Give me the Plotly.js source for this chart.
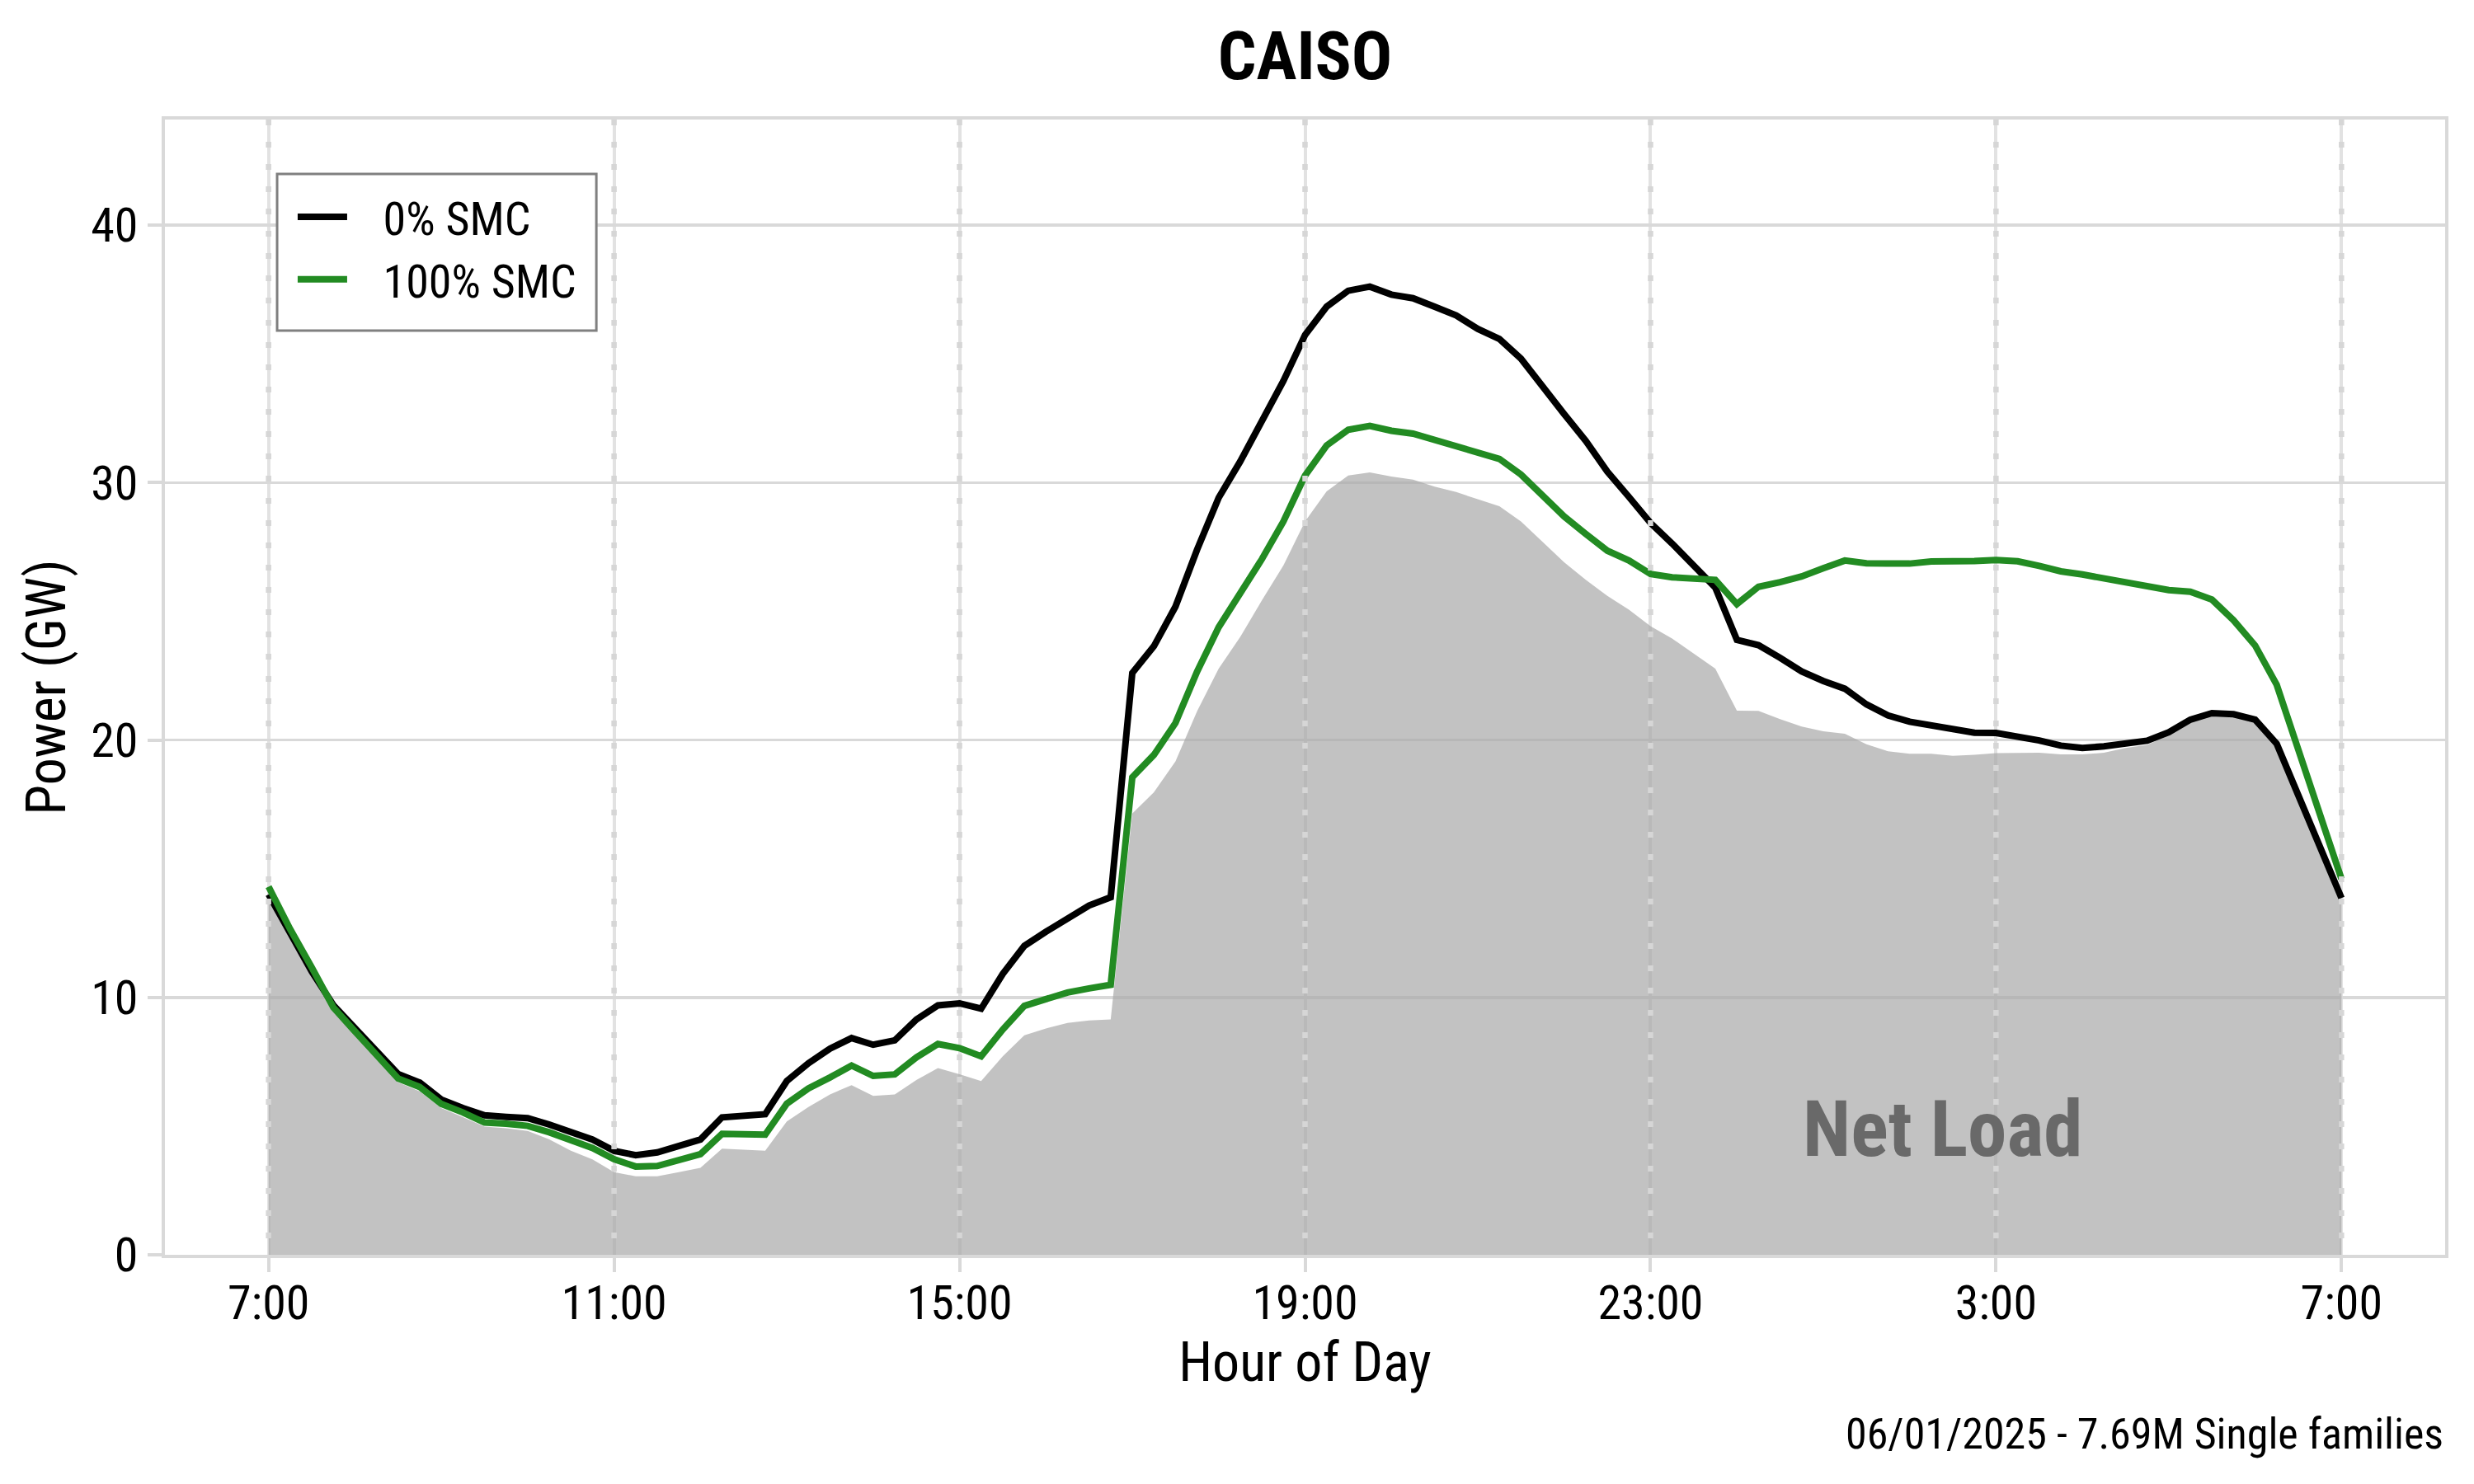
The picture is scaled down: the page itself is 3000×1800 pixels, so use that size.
<!DOCTYPE html>
<html>
<head>
<meta charset="utf-8">
<script src="https://cdn.plot.ly/plotly-3.0.1.min.js"></script>
<style>
  html, body { margin: 0; padding: 0; background: #ffffff; }
  #chart { width: 3000px; height: 1800px; }
</style>
</head>
<body>
<div id="chart"></div>
<script>
// ---- Data (15-minute steps from 7:00 to 7:00 next day) ----
const startTime = "2025-06-01 07:00";
const stepMinutes = 15;

const smc0 = [
  14.0, 12.45, 11.0, 9.7, 8.8, 7.9, 7.02, 6.69, 6.03, 5.70, 5.42, 5.36, 5.31, 5.06, 4.76, 4.48,
  4.04, 3.87, 3.98, 4.2, 4.48, 5.34, 5.39, 5.46, 6.75, 7.44, 8.01, 8.42, 8.16, 8.33, 9.14, 9.69,
  9.77, 9.56, 10.91, 12.0, 12.55, 13.07, 13.57, 13.89, 22.6, 23.64, 25.18, 27.39, 29.41, 30.82, 32.42, 33.95,
  35.73, 36.83, 37.45, 37.61, 37.30, 37.16, 36.83, 36.49, 35.97, 35.58, 34.81, 33.71, 32.66, 31.62, 30.42, 29.44,
  28.43, 27.63, 26.77, 25.92, 23.89, 23.68, 23.19, 22.66, 22.29, 21.99, 21.38, 20.95, 20.71, 20.56, 20.38, 20.28,
  20.27, 20.13, 19.98, 19.78, 19.69, 19.75, 19.89, 19.97, 20.3, 20.79, 21.04, 21.0, 20.79, 19.85, 17.85, 15.82,
  13.86
];

const smc100 = [
  14.3, 12.65, 11.16, 9.61, 8.68, 7.79, 6.85, 6.52, 5.86, 5.53, 5.14, 5.09, 5.01, 4.76, 4.43, 4.15,
  3.71, 3.43, 3.45, 3.65, 3.91, 4.70, 4.70, 4.67, 5.87, 6.46, 6.89, 7.35, 6.95, 7.01, 7.67, 8.19,
  8.03, 7.71, 8.75, 9.67, 9.93, 10.19, 10.35, 10.49, 18.55, 19.42, 20.66, 22.65, 24.38, 25.66, 27.02, 28.49,
  30.27, 31.44, 32.05, 32.2, 32.01, 31.9, 31.66, 31.46, 31.17, 30.92, 30.31, 29.47, 28.68, 28.0, 27.35, 26.97,
  26.45, 26.32, 26.28, 26.22, 25.28, 25.95, 26.13, 26.35, 26.67, 26.97, 26.86, 26.83, 26.85, 26.93, 26.92, 26.95,
  26.99, 26.94, 26.76, 26.55, 26.43, 26.27, 26.1, 25.92, 25.82, 25.76, 25.45, 24.65, 23.67, 22.14, 19.62, 17.11,
  14.6
];

const netLoad = [
  14.0, 12.5, 11.05, 9.5, 8.55, 7.65, 6.7, 6.35, 5.7, 5.35, 4.98, 4.92, 4.81, 4.48, 4.04, 3.71,
  3.21, 3.05, 3.05, 3.21, 3.38, 4.12, 4.08, 4.04, 5.18, 5.74, 6.23, 6.59, 6.17, 6.23, 6.79, 7.25,
  7.01, 6.75, 7.71, 8.53, 8.79, 9.01, 9.10, 9.14, 17.14, 17.97, 19.17, 21.11, 22.77, 24.0, 25.42, 26.78,
  28.49, 29.66, 30.27, 30.39, 30.23, 30.11, 29.84, 29.63, 29.35, 29.08, 28.49, 27.7, 26.9, 26.22, 25.6, 25.06,
  24.42, 23.94, 23.35, 22.77, 21.14, 21.13, 20.81, 20.52, 20.34, 20.24, 19.83, 19.56, 19.46, 19.46, 19.38, 19.42,
  19.49, 19.5, 19.5, 19.44, 19.44, 19.5, 19.69, 19.81, 20.18, 20.75, 21.0, 20.95, 20.73, 19.81, 17.79, 15.76,
  13.74
];

const tickTimes = ["2025-06-01 07:00", "2025-06-01 11:00", "2025-06-01 15:00", "2025-06-01 19:00",
                   "2025-06-01 23:00", "2025-06-02 03:00", "2025-06-02 07:00"];
const tickLabels = ["7:00", "11:00", "15:00", "19:00", "23:00", "3:00", "7:00"];
const yTicks = [0, 10, 20, 30, 40];

const seriesNames = ["0% SMC", "100% SMC"];
const titleText = "CAISO";
const footerText = "06/01/2025 - 7.69M Single families";
const netLoadLabel = "Net Load";
const netLoadLabelPos = { x: "2025-06-02 02:23", y: 4.9 };

// ---- time axis built from start + step ----
function pad(n) { return (n < 10 ? "0" : "") + n; }
function timeAt(i) {
  const base = new Date(startTime.replace(" ", "T") + ":00Z").getTime();
  const d = new Date(base + i * stepMinutes * 60000);
  return d.getUTCFullYear() + "-" + pad(d.getUTCMonth() + 1) + "-" + pad(d.getUTCDate()) +
         " " + pad(d.getUTCHours()) + ":" + pad(d.getUTCMinutes());
}
const times = smc0.map((_, i) => timeAt(i));

const FONT = "'Roboto Condensed', 'Liberation Sans Narrow', 'DejaVu Sans Condensed', 'Noto Sans', sans-serif";
const NB = "\u00A0\u00A0\u00A0";

const traces = [
  {
    x: times, y: netLoad, type: "scatter", mode: "lines",
    fill: "tozeroy", fillcolor: "rgba(168,168,168,0.7)",
    line: { width: 0, color: "rgba(168,168,168,0)" },
    name: netLoadLabel, showlegend: false, hoverinfo: "skip"
  },
  {
    x: times, y: smc0, type: "scatter", mode: "lines",
    line: { color: "#000000", width: 8 }, name: NB + seriesNames[0]
  },
  {
    x: times, y: smc100, type: "scatter", mode: "lines",
    line: { color: "#228B22", width: 8 }, name: NB + seriesNames[1]
  }
];

const shapes = tickTimes.map(t => ({
  type: "line", xref: "x", yref: "paper", x0: t, x1: t, y0: 1, y1: 0,
  layer: "above",
  line: { color: "#d6d6d6", width: 6.5, dash: "7px,20px" }
}));
// legend frame
shapes.push({
  type: "rect", xref: "paper", yref: "paper",
  x0: 0.0492, x1: 0.1892, y0: 0.8141, y1: 0.9521,
  layer: "above", fillcolor: "#ffffff",
  line: { color: "#808080", width: 3 }
});

const layout = {
  width: 3000, height: 1800,
  margin: { l: 200, r: 35, t: 145, b: 278, pad: 0 },
  paper_bgcolor: "#ffffff", plot_bgcolor: "#ffffff",
  font: { family: FONT, color: "#000000", size: 58 },
  title: {
    text: titleText,
    font: { family: FONT, size: 82, weight: "bold", color: "#000000" },
    x: 0.5, xref: "paper", xanchor: "center",
    y: 1 - 67 / 1800, yref: "container", yanchor: "middle"
  },
  showlegend: true,
  legend: {
    x: 0.0564, y: 0.9455, xanchor: "left", yanchor: "top",
    bgcolor: "rgba(0,0,0,0)", borderwidth: 0,
    font: { family: FONT, size: 56, color: "#000000" },
    itemwidth: 60, traceorder: "normal"
  },
  xaxis: {
    type: "date",
    range: ["2025-06-01 05:48", "2025-06-02 08:12"],
    tickmode: "array", tickvals: tickTimes, ticktext: tickLabels,
    showgrid: true, gridcolor: "#e2e2e2", gridwidth: 4,
    zeroline: false,
    ticks: "outside", ticklen: 17, tickwidth: 4, tickcolor: "#d9d9d9",
    ticklabelstandoff: -13,
    showline: true, mirror: true, linecolor: "#d9d9d9", linewidth: 4,
    tickfont: { family: FONT, size: 58, color: "#000000" },
    title: { text: "Hour of Day", font: { family: FONT, size: 66, color: "#000000" }, standoff: 2 },
    fixedrange: true
  },
  yaxis: {
    range: [0, 44.1],
    tickmode: "array", tickvals: yTicks, ticktext: yTicks.map(String),
    showgrid: true, gridcolor: "#d9d9d9", gridwidth: 3.5,
    zeroline: false,
    ticks: "outside", ticklen: 17, tickwidth: 4, tickcolor: "#d9d9d9",
    showline: true, mirror: true, linecolor: "#d9d9d9", linewidth: 4,
    tickfont: { family: FONT, size: 58, color: "#000000" },
    title: { text: "Power (GW)", font: { family: FONT, size: 66, color: "#000000" }, standoff: 10 },
    fixedrange: true
  },
  shapes: shapes,
  annotations: [
    {
      x: netLoadLabelPos.x, y: netLoadLabelPos.y, xref: "x", yref: "y",
      text: netLoadLabel, showarrow: false, xanchor: "center", yanchor: "middle",
      font: { family: FONT, size: 95, weight: "bold", color: "#696969" }
    },
    {
      x: 1, y: -(1740 - 1522) / 1377, xref: "paper", yref: "paper",
      text: footerText, showarrow: false, xanchor: "right", yanchor: "middle",
      font: { family: FONT, size: 52, color: "#000000" }
    }
  ]
};

Plotly.newPlot("chart", traces, layout, { staticPlot: true, displayModeBar: false });
</script>
</body>
</html>
